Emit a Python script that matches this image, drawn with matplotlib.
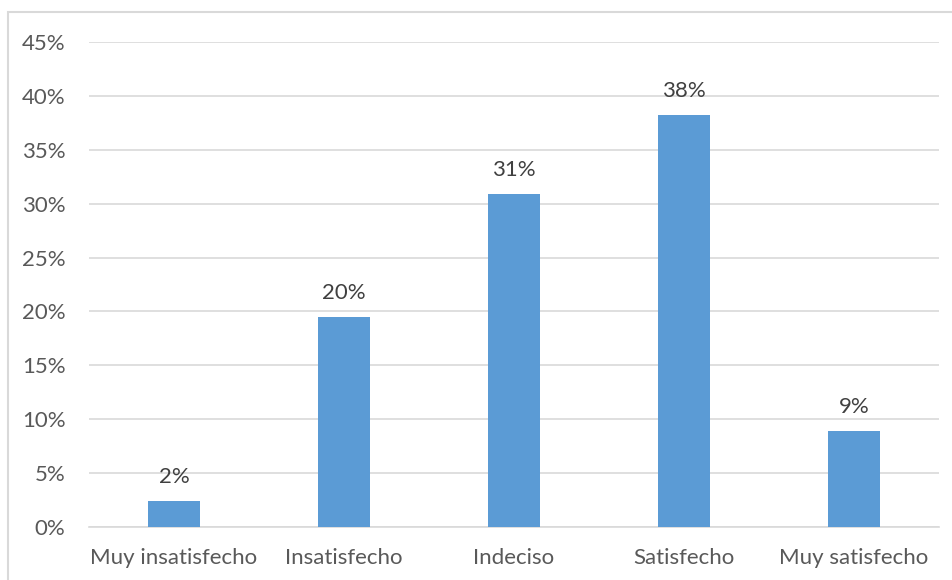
import matplotlib.pyplot as plt
from matplotlib.patches import Rectangle
from matplotlib.ticker import FuncFormatter

# satisfaction survey, share of answers per category
categories = ['Muy insatisfecho', 'Insatisfecho', 'Indeciso', 'Satisfecho', 'Muy satisfecho']
values = [2.4, 19.5, 30.9, 38.2, 8.9]
labels = ['2%', '20%', '31%', '38%', '9%']

plt.rcParams['font.family'] = ['Lato', 'DejaVu Sans']
text_color = '#595959'

fig = plt.figure(figsize=(9.52, 5.8), dpi=100)
# plot area in pixels: x 89..939, y 42..527
ax = fig.add_axes([89 / 952, 1 - 527 / 580, 850 / 952, 485 / 580])

x = range(len(categories))
ax.bar(x, values, width=0.31, color='#5b9bd5', zorder=3)

for i, (v, lab) in enumerate(zip(values, labels)):
    ax.annotate(lab, (i, v), xytext=(0, 10), textcoords='offset points',
                ha='center', va='bottom', fontsize=16, color='#404040', zorder=4)

ax.set_xlim(-0.5, len(categories) - 0.5)
ax.set_ylim(0, 45)
ax.set_yticks(range(0, 46, 5))
ax.yaxis.set_major_formatter(FuncFormatter(lambda v, p: f'{int(v)}%'))
ax.set_xticks(list(x))
ax.set_xticklabels(categories)
ax.tick_params(axis='both', length=0, labelsize=16, labelcolor=text_color)
ax.tick_params(axis='y', pad=17)
ax.tick_params(axis='x', pad=15)

ax.grid(axis='y', color='#d9d9d9', linewidth=1.2, zorder=0)
for side in ['top', 'right', 'left']:
    ax.spines[side].set_visible(False)
ax.spines['bottom'].set_color('#d9d9d9')
ax.spines['bottom'].set_linewidth(1.2)

# light frame around the chart (cut off on right and bottom)
fig.patches.append(Rectangle((8 / 952, -0.1), 1.2, (580 - 12) / 580 + 0.1,
                             transform=fig.transFigure, fill=False,
                             edgecolor='#d9d9d9', linewidth=1.5))

fig.savefig('out.png', dpi=100)
